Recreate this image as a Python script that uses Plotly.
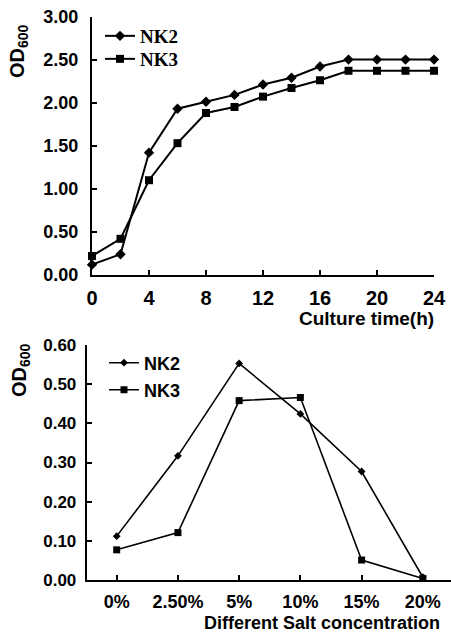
import plotly.graph_objects as go

# ---- data: growth curve ----
time_h = [0, 2, 4, 6, 8, 10, 12, 14, 16, 18, 20, 22, 24]
nk2_growth = [0.12, 0.24, 1.42, 1.93, 2.01, 2.09, 2.21, 2.29, 2.42, 2.50, 2.50, 2.50, 2.50]
nk3_growth = [0.22, 0.42, 1.10, 1.53, 1.88, 1.95, 2.07, 2.17, 2.26, 2.37, 2.37, 2.37, 2.37]
time_ticks = [0, 4, 8, 12, 16, 20, 24]
od_ticks_top = [0, 0.5, 1.0, 1.5, 2.0, 2.5, 3.0]

# ---- data: salt tolerance ----
salt_labels = ["0%", "2.50%", "5%", "10%", "15%", "20%"]
nk2_salt = [0.112, 0.317, 0.553, 0.424, 0.277, 0.007]
nk3_salt = [0.077, 0.121, 0.458, 0.466, 0.051, 0.004]
od_ticks_bot = [0, 0.1, 0.2, 0.3, 0.4, 0.5, 0.6]

W, H = 451, 635
SANS = "Liberation Sans, Arial, sans-serif"
SERIF = "Liberation Serif, Times New Roman, serif"

def px_x(p):
    return p / W

def px_y(p):
    return 1 - p / H

salt_idx = list(range(len(salt_labels)))

fig = go.Figure()

fig.add_trace(go.Scatter(x=time_h, y=nk2_growth, name="NK2", mode="lines+markers",
                         line=dict(color="black", width=2), marker=dict(symbol="diamond", size=8, color="black"),
                         xaxis="x", yaxis="y", legend="legend", cliponaxis=False))
fig.add_trace(go.Scatter(x=time_h, y=nk3_growth, name="NK3", mode="lines+markers",
                         line=dict(color="black", width=2), marker=dict(symbol="square", size=8, color="black"),
                         xaxis="x", yaxis="y", legend="legend2", cliponaxis=False))
fig.add_trace(go.Scatter(x=salt_idx, y=nk2_salt, name="NK2", mode="lines+markers",
                         line=dict(color="black", width=1.6), marker=dict(symbol="diamond", size=6, color="black"),
                         xaxis="x2", yaxis="y2", legend="legend3", cliponaxis=False))
fig.add_trace(go.Scatter(x=salt_idx, y=nk3_salt, name="NK3", mode="lines+markers",
                         line=dict(color="black", width=1.6), marker=dict(symbol="square", size=7, color="black"),
                         xaxis="x2", yaxis="y2", legend="legend4", cliponaxis=False))

def axis(size, **kw):
    d = dict(showline=True, linecolor="black", linewidth=2, ticks="inside",
             ticklen=5, tickwidth=2, tickcolor="black", showgrid=False, zeroline=False,
             automargin=False, tickmode="array",
             tickfont=dict(family=SANS, size=size, color="black", weight="bold"))
    d.update(kw)
    return d

def leg(xp, yp, family, size):
    return dict(x=px_x(xp), y=px_y(yp), xanchor="left", yanchor="middle",
                font=dict(family=family, size=size, color="black", weight="bold"),
                bgcolor="rgba(0,0,0,0)")

fig.update_layout(
    width=W, height=H, margin=dict(l=0, r=0, t=0, b=0),
    paper_bgcolor="white", plot_bgcolor="white",
    xaxis=axis(20, domain=[px_x(92), px_x(434)], range=[0, 24],
               tickvals=time_ticks, anchor="y", ticklabelstandoff=4),
    yaxis=axis(18, domain=[px_y(275), px_y(16.5)], range=[0, 3],
               tickvals=od_ticks_top, tickformat=".2f", anchor="x", ticklabelstandoff=8),
    xaxis2=axis(18, domain=[px_x(86.7), 1.0], range=[-0.49, 5.46],
                tickvals=salt_idx, ticktext=salt_labels, anchor="y2", ticklabelstandoff=4),
    yaxis2=axis(17, domain=[px_y(580), px_y(345)], range=[0, 0.6],
                tickvals=od_ticks_bot, tickformat=".2f", anchor="x2", ticklabelstandoff=5),
    legend=leg(100, 36, SERIF, 19),
    legend2=leg(100, 59, SERIF, 19),
    legend3=leg(104, 363, SANS, 18),
    legend4=leg(104, 390, SANS, 18),
    showlegend=True,
)

fig.add_annotation(text="OD<sub>600</sub>", xref="paper", yref="paper",
                   x=px_x(18), y=px_y(51), textangle=-90, showarrow=False,
                   xanchor="center", yanchor="middle",
                   font=dict(family=SANS, size=20, color="black", weight="bold"))
fig.add_annotation(text="OD<sub>600</sub>", xref="paper", yref="paper",
                   x=px_x(20), y=px_y(370), textangle=-90, showarrow=False,
                   xanchor="center", yanchor="middle",
                   font=dict(family=SANS, size=20, color="black", weight="bold"))
fig.add_annotation(text="Culture time(h)", xref="paper", yref="paper",
                   x=px_x(436), y=px_y(318), showarrow=False,
                   xanchor="right", yanchor="middle",
                   font=dict(family=SANS, size=19, color="black", weight="bold"))
fig.add_annotation(text="Different Salt concentration", xref="paper", yref="paper",
                   x=px_x(442), y=px_y(623), showarrow=False,
                   xanchor="right", yanchor="middle",
                   font=dict(family=SANS, size=18, color="black", weight="bold"))

fig.write_html("out.html")
